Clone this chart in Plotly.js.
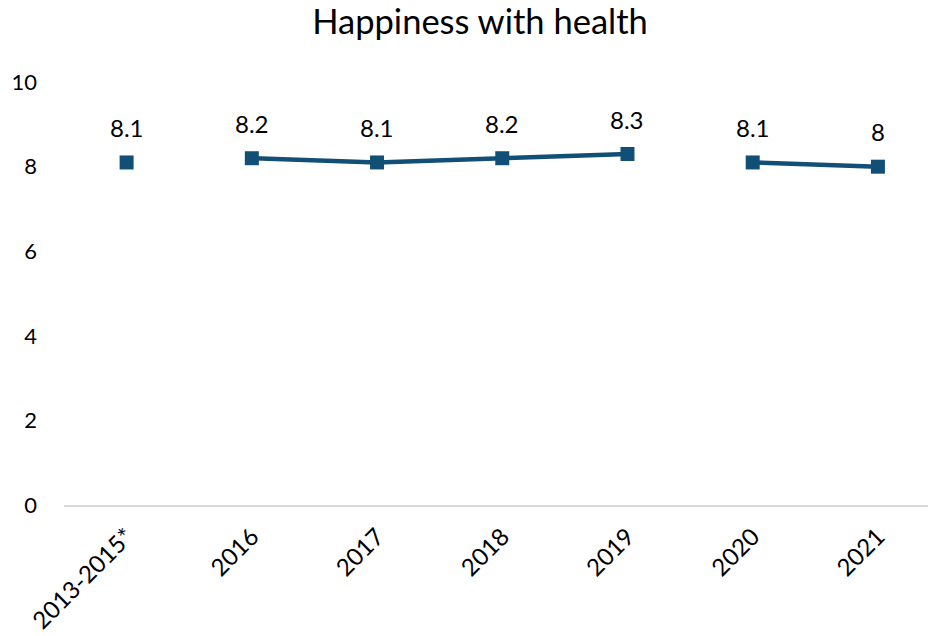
<!DOCTYPE html>
<html>
<head>
<meta charset="utf-8">
<script src="https://cdn.plot.ly/plotly-3.0.1.min.js"></script>
<style>html,body{margin:0;padding:0;background:#fff;}#chart{width:928px;height:636px;}</style>
</head>
<body>
<div id="chart"></div>
<script>
var categories = ["2013-2015*", "2016", "2017", "2018", "2019", "2020", "2021"];
var values = [8.1, 8.2, 8.1, 8.2, 8.3, 8.1, 8.0];
var labels = ["8.1", "8.2", "8.1", "8.2", "8.3", "8.1", "8"];
var segments = [[0], [1, 2, 3, 4], [5, 6]];
var yTicks = [0, 2, 4, 6, 8, 10];

var color = "#124F76";
var font = "Lato, 'Open Sans', sans-serif";

var traces = segments.map(function (seg) {
  return {
    type: "scatter",
    mode: "lines+markers",
    x: seg.map(function (i) { return categories[i]; }),
    y: seg.map(function (i) { return values[i]; }),
    line: {color: color, width: 4.5},
    marker: {symbol: "square", size: 14, color: color},
    hoverinfo: "x+y",
    showlegend: false
  };
});

var annotations = categories.map(function (c, i) {
  return {
    x: i, y: values[i], xref: "x", yref: "y",
    text: labels[i], showarrow: false,
    yshift: 35, font: {family: font, size: 24, color: "#000"}
  };
});

var layout = {
  width: 928, height: 636,
  margin: {l: 64, r: 0, t: 80, b: 131},
  paper_bgcolor: "#fff", plot_bgcolor: "#fff",
  title: {text: "Happiness with health", xref: "paper", x: 0.4815, xanchor: "center", y: 0.965, yanchor: "middle",
          font: {family: font, size: 34.5, color: "#000"}},
  xaxis: {
    type: "category", categoryorder: "array", categoryarray: categories,
    range: [-0.5, 6.4],
    showline: true, linecolor: "#d9d9d9", linewidth: 2,
    showgrid: false, zeroline: false, ticks: "",
    ticklabelstandoff: 6,
    tickangle: -45, tickfont: {family: font, size: 24, color: "#000"}
  },
  yaxis: {
    range: [0, 10.05], tickvals: yTicks, ticktext: yTicks.map(String),
    showgrid: false, zeroline: false, showline: false, ticks: "",
    ticklabelstandoff: 26,
    tickfont: {family: font, size: 22, color: "#000"}
  },
  annotations: annotations
};

Plotly.newPlot("chart", traces, layout, {displayModeBar: false, staticPlot: true});
</script>
</body>
</html>
